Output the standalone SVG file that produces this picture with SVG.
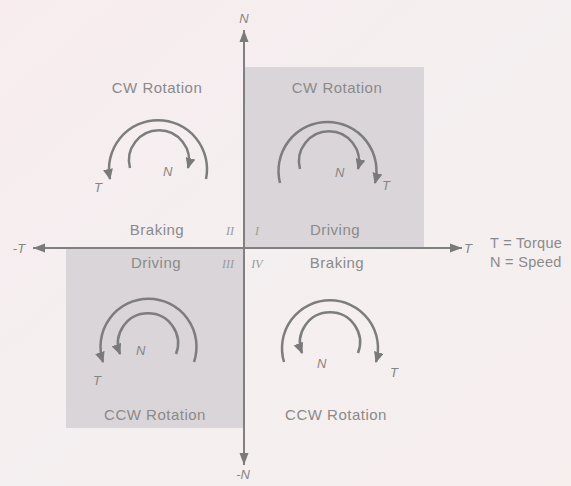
<svg xmlns="http://www.w3.org/2000/svg" width="571" height="486" viewBox="0 0 571 486">
<defs>
<linearGradient id="bg" x1="0" y1="0" x2="1" y2="1">
<stop offset="0" stop-color="#f8ecee"/>
<stop offset="0.5" stop-color="#f4eff0"/>
<stop offset="1" stop-color="#f7eeee"/>
</linearGradient>
<marker id="ah" markerWidth="12" markerHeight="10" refX="10" refY="5" orient="auto" markerUnits="userSpaceOnUse">
<path d="M0,0 L11,5 L0,10 z" fill="#7a7a7a"/>
</marker>
<marker id="axh" markerWidth="14" markerHeight="10" refX="12" refY="5" orient="auto" markerUnits="userSpaceOnUse">
<path d="M0,0.5 L12,5 L0,9.5 z" fill="#7a7a7a"/>
</marker>
<style>
.lbl{font-family:"Liberation Sans",Arial,sans-serif;font-size:15px;fill:#8a8a8a;letter-spacing:0.5px;text-anchor:middle}
.leg{font-family:"Liberation Sans",Arial,sans-serif;font-size:14.5px;fill:#8a8a8a;letter-spacing:0.3px}
.it{font-family:"Liberation Sans",Arial,sans-serif;font-size:13px;font-style:italic;fill:#858585}
.rn{font-family:"Liberation Serif","Times New Roman",serif;font-size:12px;font-style:italic;fill:#9a9a9a;text-anchor:middle}
.arc{fill:none;stroke:#7d7d7d;stroke-width:2.5;marker-end:url(#ah)}
.axis{stroke:#808080;stroke-width:2;fill:none;marker-end:url(#axh)}
.shade{fill:#dad5d8}
</style>
</defs>
<rect width="571" height="486" fill="url(#bg)"/>
<rect class="shade" x="244" y="67" width="180" height="181"/>
<rect class="shade" x="66" y="248" width="178" height="180"/>

<g id="connectors">
<line class="axis" x1="244" y1="248" x2="244" y2="30"/>
<line class="axis" x1="244" y1="248" x2="244" y2="465"/>
<line class="axis" x1="244" y1="248" x2="33" y2="248"/>
<line class="axis" x1="244" y1="248" x2="462" y2="248"/>
</g>

<g id="axis-labels">
<text class="it" x="244" y="23" text-anchor="middle">N</text>
<text class="it" x="243" y="479" text-anchor="middle">-N</text>
<text class="it" x="19" y="253" text-anchor="middle">-T</text>
<text class="it" x="468" y="253" text-anchor="middle">T</text>
</g>

<g id="legend">
<text class="leg" x="490" y="248">T = Torque</text>
<text class="leg" x="490" y="267">N = Speed</text>
</g>

<g id="quadrant-II">
<text class="lbl" x="157" y="93">CW Rotation</text>
<path class="arc" d="M206,179 A49,49 0 1 0 110,179"/>
<path class="arc" d="M130,168 A30,30 0 1 1 188,168"/>
<text class="it" x="163" y="176">N</text>
<text class="it" x="94" y="192">T</text>
<text class="lbl" x="157" y="235">Braking</text>
<text class="rn" x="230" y="235">II</text>
</g>

<g id="quadrant-I">
<text class="lbl" x="337" y="93">CW Rotation</text>
<path class="arc" d="M280,183 A49,49 0 1 1 375,183"/>
<path class="arc" d="M300,169 A30,30 0 1 1 358,169"/>
<text class="it" x="335" y="177">N</text>
<text class="it" x="382" y="190">T</text>
<text class="lbl" x="335" y="235">Driving</text>
<text class="rn" x="257" y="235">I</text>
</g>

<g id="quadrant-III">
<path class="arc" d="M194,362 A48,48 0 1 0 103,362"/>
<path class="arc" d="M176,354 A30,30 0 1 0 120,354"/>
<text class="it" x="136" y="355">N</text>
<text class="it" x="93" y="385">T</text>
<text class="lbl" x="156" y="268">Driving</text>
<text class="rn" x="228" y="268">III</text>
<text class="lbl" x="155" y="420">CCW Rotation</text>
</g>

<g id="quadrant-IV">
<path class="arc" d="M284,362 A48,48 0 1 1 376,362"/>
<path class="arc" d="M358,353 A30,30 0 1 0 302,353"/>
<text class="it" x="317" y="368">N</text>
<text class="it" x="390" y="377">T</text>
<text class="lbl" x="337" y="268">Braking</text>
<text class="rn" x="257" y="268">IV</text>
<text class="lbl" x="336" y="420">CCW Rotation</text>
</g>
</svg>
